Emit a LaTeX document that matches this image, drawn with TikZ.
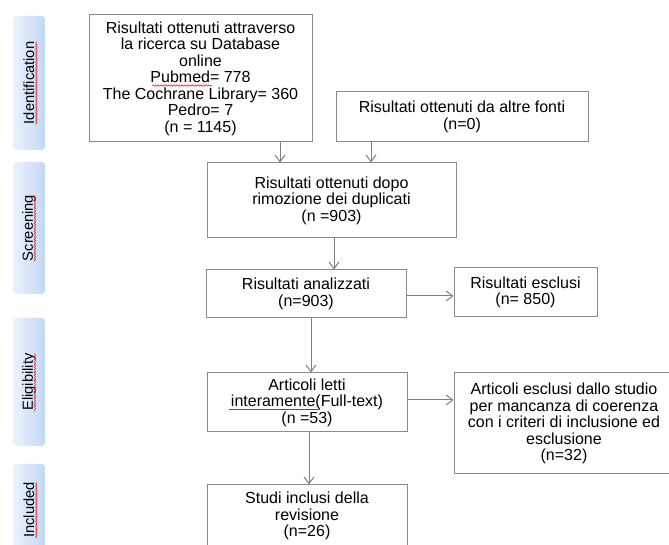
\documentclass[tikz,border=0pt]{standalone}
\usepackage{fontspec}
\setmainfont{Liberation Sans}
\usetikzlibrary{arrows.meta,decorations.pathmorphing}
\definecolor{boxgray}{HTML}{8A8A8A}
\definecolor{arrgray}{HTML}{7F7F7F}
\definecolor{sideL}{HTML}{EBF2FC}
\definecolor{sideR}{HTML}{C3D8F5}
\definecolor{spellred}{HTML}{E03030}
\definecolor{spellblue}{HTML}{3050C0}
\tikzset{
  box/.style={draw=boxgray, line width=0.75pt, align=center, inner sep=0pt,
    font=\fontsize{12pt}{12.4pt}\selectfont},
  arr/.style={draw=arrgray, line width=0.75pt, -{Straight Barb[length=5pt,width=7.5pt]}},
  sidebox/.style={rounded corners=2.5pt, left color=sideL, right color=sideR, draw=none,
    minimum width=24pt, inner sep=0pt},
  sidetext/.style={rotate=90, inner sep=0pt, font=\fontsize{11pt}{12pt}\selectfont},
  wave/.style={draw=spellred, line width=0.45pt, decorate,
    decoration={snake, amplitude=0.55pt, segment length=2pt}},
  blueul/.style={draw=spellblue, line width=0.6pt}
}
\begin{document}
\begin{tikzpicture}[x=0.75pt,y=-0.75pt]
\useasboundingbox (0,0) rectangle (669,545);
\clip (0,0) rectangle (669,545);

% side labels
\node[sidebox, minimum height=100.5pt] (s1) at (29,83) {};
\node[sidetext] (t1) at (s1) {Identification};
\node[sidebox, minimum height=99pt] (s2) at (29,228) {};
\node[sidetext] (t2) at (s2) {Screening};
\node[sidebox, minimum height=96pt] (s3) at (29,382) {};
\node[sidetext] (t3) at (s3) {Eligibility};
\node[sidebox, minimum height=69pt] (s4) at (29,510) {};
\node[sidetext] (t4) at (s4) {Included};
\foreach \t in {t1,t2,t3,t4}
  \draw[wave] ([xshift=1.6pt]\t.base west) -- ([xshift=1.6pt]\t.base east);

% boxes
\node[box, minimum width=167.25pt, minimum height=95.25pt] (b1) at (200.5,78.5)
  {Risultati ottenuti attraverso\\la ricerca su Database\\online\\Pubmed= 778\\The Cochrane Library= 360\\Pedro= 7\\(n = 1145)};
\node[box, minimum width=189pt, minimum height=37.5pt] (b2) at (462,117)
  {Risultati ottenuti da altre fonti\\(n=0)};
\node[box, minimum width=186.75pt, minimum height=56.25pt] (b3) at (331.5,200.5)
  {Risultati ottenuti dopo\\rimozione dei duplicati\\(n =903)};
\node[box, minimum width=150pt, minimum height=36pt] (b4) at (306,294)
  {Risultati analizzati\\(n=903)};
\node[box, minimum width=107.25pt, minimum height=36.75pt] (b5) at (525.5,292.5)
  {Risultati esclusi\\(n= 850)};
\node[box, minimum width=150pt, minimum height=44.25pt] (b6) at (307,402.5)
  {Articoli letti\\interamente(Full-text)\\(n =53)};
\node[box, minimum width=165pt, minimum height=75.75pt] (b7) at (564,423.5)
  {Articoli esclusi dallo studio\\per mancanza di coerenza\\con i criteri di inclusione ed\\esclusione\\(n=32)};
\node[box, minimum width=150pt, minimum height=46.5pt] (b8) at (307,516)
  {Studi inclusi della\\revisione\\(n=26)};

% spell-check marks
\draw[wave] (152,85.5) -- (212,85.5);
\draw[blueul] (229,409) -- (320,409);

% connector guides
\coordinate (c1) at (280,0);
\coordinate (c2) at (371,0);
\coordinate (c3) at (334,0);
\coordinate (c4) at (0,296);
\coordinate (c5) at (311,0);
\coordinate (c6) at (0,400);
\coordinate (c7) at (309,0);

\draw[arr] (b1.south -| c1) -- (b3.north -| c1);
\draw[arr] (b2.south -| c2) -- (b3.north -| c2);
\draw[arr] (b3.south -| c3) -- (b4.north -| c3);
\draw[arr] (b4.east |- c4) -- (b5.west |- c4);
\draw[arr] (b4.south -| c5) -- (b6.north -| c5);
\draw[arr] (b6.east |- c6) -- (b7.west |- c6);
\draw[arr] (b6.south -| c7) -- (b8.north -| c7);
\end{tikzpicture}
\end{document}
